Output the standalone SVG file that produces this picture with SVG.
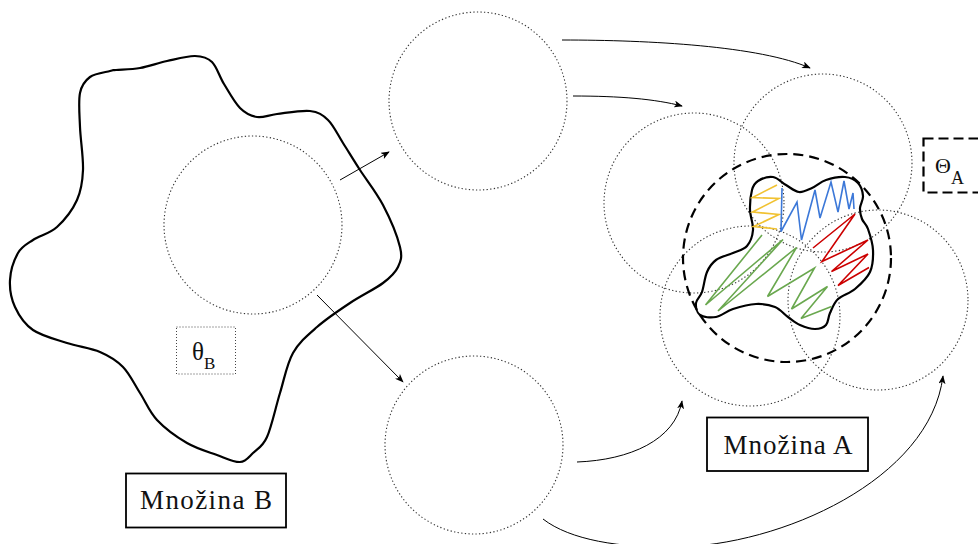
<svg xmlns="http://www.w3.org/2000/svg" width="978" height="544" viewBox="0 0 978 544">
  <style>
    .dot { fill: none; stroke: #333; stroke-width: 1.1; stroke-dasharray: 1.3 2.3; }
    .blob { fill: none; stroke: #000; stroke-width: 2.2; stroke-linejoin: round; }
    .dash { fill: none; stroke: #000; stroke-width: 2.2; stroke-dasharray: 10 6; }
    .conn { fill: none; stroke: #000; stroke-width: 1; marker-end: url(#ah); }
    .zz { fill: none; stroke-width: 1.6; stroke-linejoin: miter; }
    .box { fill: #fff; stroke: #000; stroke-width: 1.8; }
    .lbl { fill: #111; font-family: "Liberation Serif", "Times New Roman", serif; }
  </style>
  <defs>
    <marker id="ah" viewBox="0 0 10 8" refX="9" refY="4" markerWidth="9" markerHeight="7" orient="auto" markerUnits="userSpaceOnUse">
      <path d="M0,0 L10,4 L0,8 L2.5,4 z" fill="#000"/>
    </marker>
  </defs>

  <!-- set B -->
  <g id="setB">
    <path class="blob" d="M116,70 C121,69.5 131.5,69.5 140,68 S157.8,63 167,61 S187.5,55.8 195,56 S207.2,57.3 212,62 S219.3,76.3 224,84 S234.5,102.5 240,108 S250.8,116 257,117 S268.2,115 277,114 S301.5,110 310,111 S322.5,114.7 328,120 S337.7,134.7 343,143 S353.3,159.7 360,170 S376.3,192.2 383,205 S397.5,236.7 400,247 S400.8,261 398,267 S391,277 383,283 S361,295.7 350,303 S326.5,318.7 317,327 S299.2,342 293,353 S284.3,379 280,393 S271.5,427 267,437 S257.5,448.8 253,453 S246,461.7 240,462 S225.8,458.2 217,455 S197,448.8 187,443 S164.8,428.3 157,420 S145.7,401.8 140,393 S129.7,373.8 123,367 S109.3,356 100,352 S78.2,346.7 67,343 S41.7,336 33,330 S18.8,315.3 15,307 S9.5,289 10,280 S14.2,259.7 18,253 S26.5,244.3 33,240 S49.7,233.7 57,227 S72.7,209.5 77,200 S82.5,182.2 83,170 S80.5,139.8 80,127 S78.3,101.3 80,93 S85,80.7 90,77 S105.7,72.2 110,71 S111,70.5 116,70 Z"/>
  </g>
  <g id="ballB">
    <circle class="dot" cx="253" cy="225" r="89"/>
  </g>
  <g id="thetaB">
    <rect x="176.5" y="327" width="59" height="47" fill="none" stroke="#444" stroke-width="1" stroke-dasharray="1 2"/>
    <text class="lbl" x="192" y="360" font-size="25">θ<tspan font-size="17" dy="9">B</tspan></text>
  </g>
  <g id="labelB">
    <rect class="box" x="126" y="473.5" width="160" height="54"/>
    <text class="lbl" x="206" y="509" font-size="27" text-anchor="middle" textLength="132" lengthAdjust="spacing">Množina B</text>
  </g>

  <!-- images of the ball -->
  <g id="ballTop">
    <circle class="dot" cx="478" cy="101" r="89"/>
  </g>
  <g id="ballBottom">
    <circle class="dot" cx="474" cy="445" r="89"/>
  </g>

  <!-- set A cover -->
  <g id="coverA">
    <circle class="dot" cx="694" cy="203" r="90"/>
    <circle class="dot" cx="823" cy="163" r="89"/>
    <circle class="dot" cx="750" cy="316" r="90"/>
    <circle class="dot" cx="878" cy="300" r="90"/>
  </g>
  <g id="ballA">
    <circle class="dash" cx="787" cy="258" r="104"/>
  </g>
  <g id="setA">
    <path class="blob" d="M752,190 C753.3,185.2 754.5,183.2 758,181 S768.3,176.3 773,177 S781.7,182.5 786,185 S794.7,191.5 799,192 S807.5,190 812,188 S820.5,181.8 826,180 S839.7,176.5 845,177 S855,179.8 858,183 S862.7,191.8 863,196 S860.2,204.2 860,208 S860.7,215.5 862,219 S866.2,223.8 868,229 S872.7,242.8 873,250 S873,265.5 870,272 S860.3,284.5 855,289 S842.2,295 838,299 S832,308.7 830,313 S828.5,322.3 826,325 S819.3,329 815,329 S804.5,327 800,325 S792.2,320 788,317 S780.3,309.2 775,307 S763,303.7 756,304 S739.7,306.8 733,309 S721.5,316 716,317 S703.3,317.3 700,315 S695.7,306.8 696,303 S700.2,297.2 702,292 S704.7,277.3 707,272 S711.7,263.2 716,260 S727.8,255.3 733,253 S743.7,249.8 747,246 S752.5,236 753,230 S750.2,216.7 750,210 S750.7,194.8 752,190 Z"/>
  </g>
  <g id="fill">
    <polyline class="zz" stroke="#f1c232" points="777,185 752.5,197.5 779,198.5 752.5,212 779,214.5 753.5,226.5 777,229"/>
    <polyline class="zz" stroke="#3c78d8" points="782,188 781,231.5 797,202 801.5,240 815,190 820,218 831,182 838,212 844,181 849,209 853,193 854,209"/>
    <polyline class="zz" stroke="#cc0000" points="813,248 855,214 822,261.5 868,240 831.5,271.5 868,254 838,285.5 869,267.5"/>
    <polyline class="zz" stroke="#6aa84f" points="762,235 705.5,305 783,239.5 718,311 796.5,247.5 767.5,296.5 814.5,268 791.5,309 827.5,286.5 801,318.5 831.5,306.5"/>
  </g>
  <g id="thetaA">
    <rect x="923.5" y="138.5" width="70" height="54" fill="none" stroke="#000" stroke-width="2.2" stroke-dasharray="10 5"/>
    <text class="lbl" x="935" y="173" font-size="22">Θ<tspan font-size="18" dy="11">A</tspan></text>
  </g>
  <g id="labelA">
    <rect class="box" x="707" y="417.5" width="161" height="53.5"/>
    <text class="lbl" x="788" y="454" font-size="27" text-anchor="middle" textLength="129" lengthAdjust="spacing">Množina A</text>
  </g>

  <!-- mappings -->
  <g id="connectors">
    <path class="conn" d="M340,180 L389,152"/>
    <path class="conn" d="M317,295 L403,382"/>
    <path class="conn" d="M562,40 C650,40 760,46 810,68"/>
    <path class="conn" d="M573,96 C620,96 655,99 682,106"/>
    <path class="conn" d="M577,462 C630,460 675,440 682,401"/>
    <path class="conn" d="M543,519 C570,540 620,548 675,547 C780,546 930,480 943,376"/>
  </g>
</svg>
